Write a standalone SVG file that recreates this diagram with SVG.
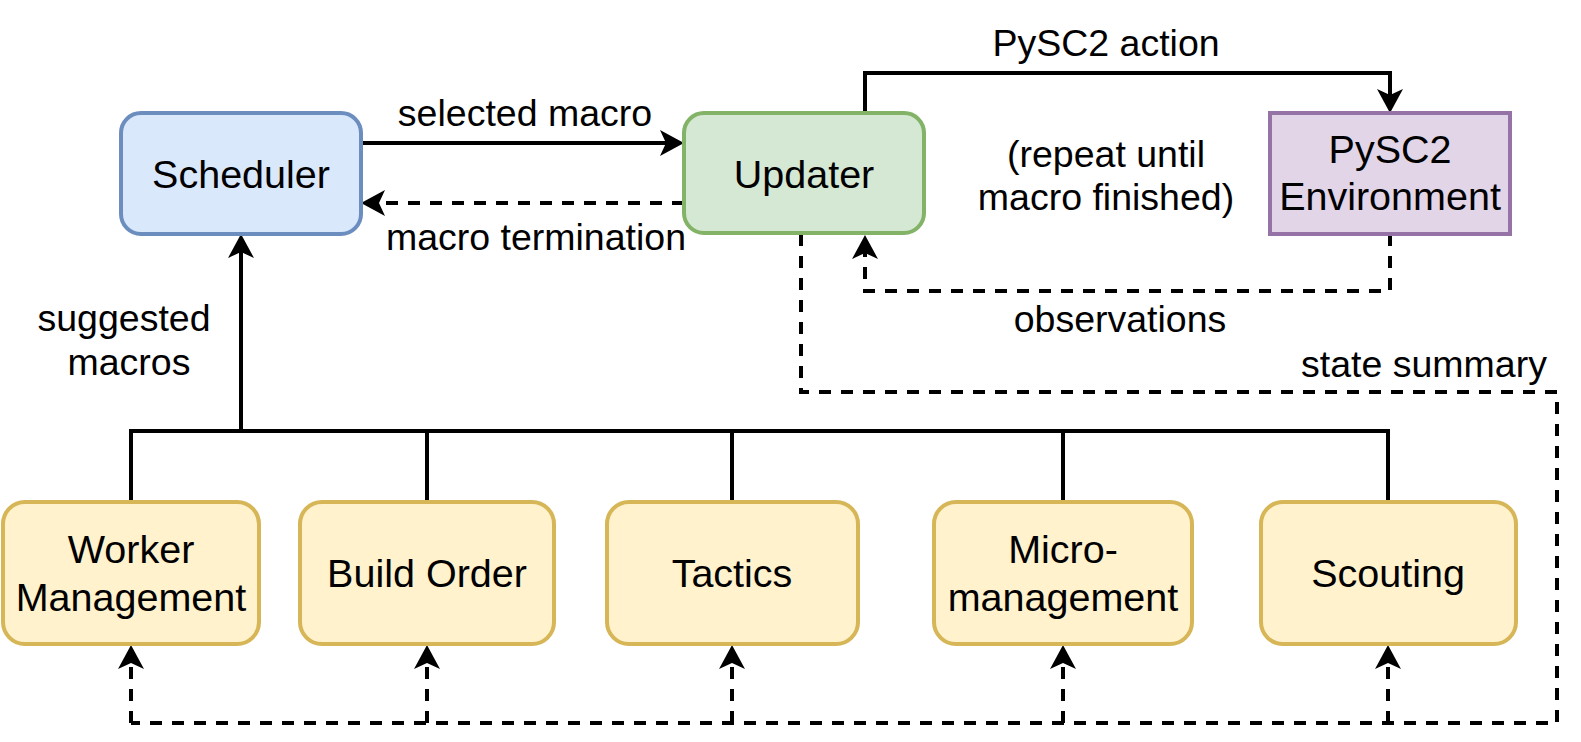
<svg xmlns="http://www.w3.org/2000/svg" width="1581" height="742" viewBox="0 0 1581 742">
<style>
text{font-family:"Liberation Sans",Arial,Helvetica,sans-serif;fill:#000;text-anchor:middle}
.n{font-size:39.5px}
.l{font-size:37.5px}
.line{fill:none;stroke:#000;stroke-width:4}
.dash{stroke-dasharray:12 10}
.blue{fill:#dae8fc;stroke:#6c8ebf;stroke-width:4}
.green{fill:#d5e8d4;stroke:#82b366;stroke-width:4}
.purple{fill:#e1d5e7;stroke:#9673a6;stroke-width:4}
.yellow{fill:#fff2cc;stroke:#d6b656;stroke-width:4}
</style>
<defs>
<marker id="arr" markerUnits="userSpaceOnUse" viewBox="0 0 24 26" refX="14" refY="13" markerWidth="24" markerHeight="26" orient="auto">
<path d="M0,0 L24,13 L0,26 L6,13 Z" fill="#000"/>
</marker>
</defs>
<g id="connectors">
<path class="line" d="M361 143 H674" marker-end="url(#arr)"/>
<path class="line dash" d="M684 203 H371" marker-end="url(#arr)"/>
<path class="line" d="M865 113 V73 H1390 V103" marker-end="url(#arr)"/>
<path class="line dash" d="M1390 234 V291 H865 V245" marker-end="url(#arr)"/>
<path class="line" d="M241 431 V244" marker-end="url(#arr)"/>
<path class="line" d="M131 502 V431 H1388 V502 M427 431 V502 M732 431 V502 M1063 431 V502"/>
<path class="line dash" d="M801 234 V392 H1557 V723 H131"/>
<path class="line dash" d="M131 723 V655" marker-end="url(#arr)"/>
<path class="line dash" d="M427 723 V655" marker-end="url(#arr)"/>
<path class="line dash" d="M732 723 V655" marker-end="url(#arr)"/>
<path class="line dash" d="M1063 723 V655" marker-end="url(#arr)"/>
<path class="line dash" d="M1388 723 V655" marker-end="url(#arr)"/>
<text class="l" x="525" y="126">selected macro</text>
<text class="l" x="536" y="250">macro termination</text>
<text class="l" x="1106" y="56">PySC2 action</text>
<text class="l" x="1106" y="167">(repeat until</text>
<text class="l" x="1106" y="210">macro finished)</text>
<text class="l" x="1120" y="332">observations</text>
<text class="l" x="1424" y="377">state summary</text>
<text class="l" x="124" y="331">suggested</text>
<text class="l" x="129" y="375">macros</text>
</g>
<g id="scheduler">
<rect class="blue" x="121" y="113" width="240" height="121" rx="20"/>
<text class="n" x="241" y="188">Scheduler</text>
</g>
<g id="updater">
<rect class="green" x="684" y="113" width="240" height="120" rx="20"/>
<text class="n" x="804" y="188">Updater</text>
</g>
<g id="environment">
<rect class="purple" x="1270" y="113" width="240" height="121"/>
<text class="n" x="1390" y="163">PySC2</text>
<text class="n" x="1390" y="210">Environment</text>
</g>
<g id="worker">
<rect class="yellow" x="3" y="502" width="256" height="142" rx="22"/>
<text class="n" x="131" y="563">Worker</text>
<text class="n" x="131" y="611">Management</text>
</g>
<g id="buildorder">
<rect class="yellow" x="300" y="502" width="254" height="142" rx="22"/>
<text class="n" x="427" y="587">Build Order</text>
</g>
<g id="tactics">
<rect class="yellow" x="607" y="502" width="251" height="142" rx="22"/>
<text class="n" x="732" y="587">Tactics</text>
</g>
<g id="micro">
<rect class="yellow" x="934" y="502" width="258" height="142" rx="22"/>
<text class="n" x="1063" y="563">Micro-</text>
<text class="n" x="1063" y="611">management</text>
</g>
<g id="scouting">
<rect class="yellow" x="1261" y="502" width="255" height="142" rx="22"/>
<text class="n" x="1388" y="587">Scouting</text>
</g>
</svg>
